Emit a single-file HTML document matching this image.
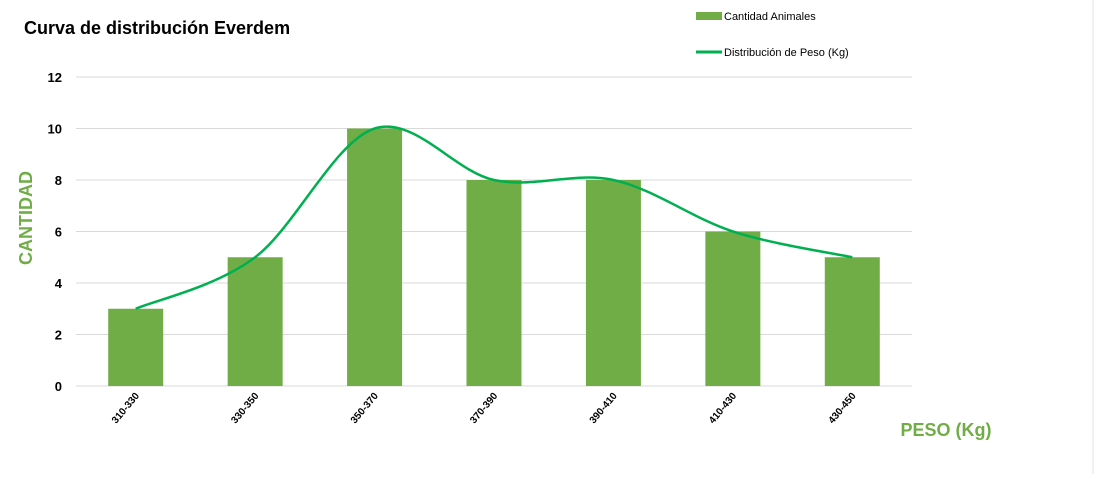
<!DOCTYPE html>
<html><head><meta charset="utf-8"><style>
body{margin:0;background:#fff;width:1107px;height:474px;overflow:hidden;font-family:"Liberation Sans",sans-serif}
</style></head><body>
<svg width="1107" height="474">
<g stroke="#e0e0e0">
<line x1="1093" y1="0" x2="1093" y2="474"/>
</g>
<text x="24" y="34" font-size="18" font-weight="bold" fill="#000">Curva de distribución Everdem</text>
<g>
<rect x="696" y="12" width="26" height="8" fill="#70ad47"/>
<text x="724" y="20" font-size="11" fill="#000">Cantidad Animales</text>
<line x1="696" y1="52" x2="722" y2="52" stroke="#00b050" stroke-width="3"/>
<text x="724" y="56" font-size="11" fill="#000">Distribución de Peso (Kg)</text>
</g>
<g id="grid"></g><g id="bars"></g><g id="yt"></g><g id="xt"></g>
<path id="curve" fill="none" stroke="#00b050" stroke-width="2.5"/>
<text transform="translate(32,218) rotate(-90)" text-anchor="middle" font-size="18" font-weight="bold" fill="#70ad47">CANTIDAD</text>
<text x="946" y="436" text-anchor="middle" font-size="18" font-weight="bold" fill="#70ad47">PESO (Kg)</text>
</svg>
<script>
const categories=["310-330","330-350","350-370","370-390","390-410","410-430","430-450"];
const counts=[3,5,10,8,8,6,5];
const yTicks=[0,2,4,6,8,10,12];
const X0=76,X1=912,Y0=386,Y1=77,YMAX=12;
const band=(X1-X0)/categories.length;
const xc=i=>X0+band*(i+0.5);
const y=v=>Y0-(Y0-Y1)*v/YMAX;
const NS="http://www.w3.org/2000/svg";
function mk(t,a,p){const e=document.createElementNS(NS,t);for(const k in a)e.setAttribute(k,a[k]);document.getElementById(p).appendChild(e);return e;}
yTicks.forEach(v=>{
 const l=mk('line',{x1:X0,x2:X1,y1:y(v),y2:y(v),stroke:'#d9d9d9'},'grid');
 
 
 const t=mk('text',{x:62,y:y(v)+5,'text-anchor':'end','font-size':13,'font-weight':'bold'},'yt');
 t.textContent=v;
 
 
});
counts.forEach((v,i)=>{
 const r=mk('rect',{x:xc(i)-27.5,y:y(v),width:55,height:Y0-y(v),fill:'#70ad47'},'bars');
 
 
 const t=mk('text',{transform:`translate(${xc(i)+4},${Y0+10}) rotate(-50)`,'text-anchor':'end','font-size':10,'font-weight':'bold'},'xt');
 t.textContent=categories[i];
 
 
});
const pts=counts.map((v,i)=>[xc(i),y(v)]);
let d=`M${pts[0][0]},${pts[0][1]}`;
for(let i=0;i<pts.length-1;i++){
 const p0=pts[Math.max(0,i-1)],p1=pts[i],p2=pts[i+1],p3=pts[Math.min(pts.length-1,i+2)];
 const s=6;
 d+=` C${p1[0]+(p2[0]-p0[0])/s},${p1[1]+(p2[1]-p0[1])/s} ${p2[0]-(p3[0]-p1[0])/s},${p2[1]-(p3[1]-p1[1])/s} ${p2[0]},${p2[1]}`;
}
document.getElementById('curve').setAttribute('d',d);
</script>
</body></html>
